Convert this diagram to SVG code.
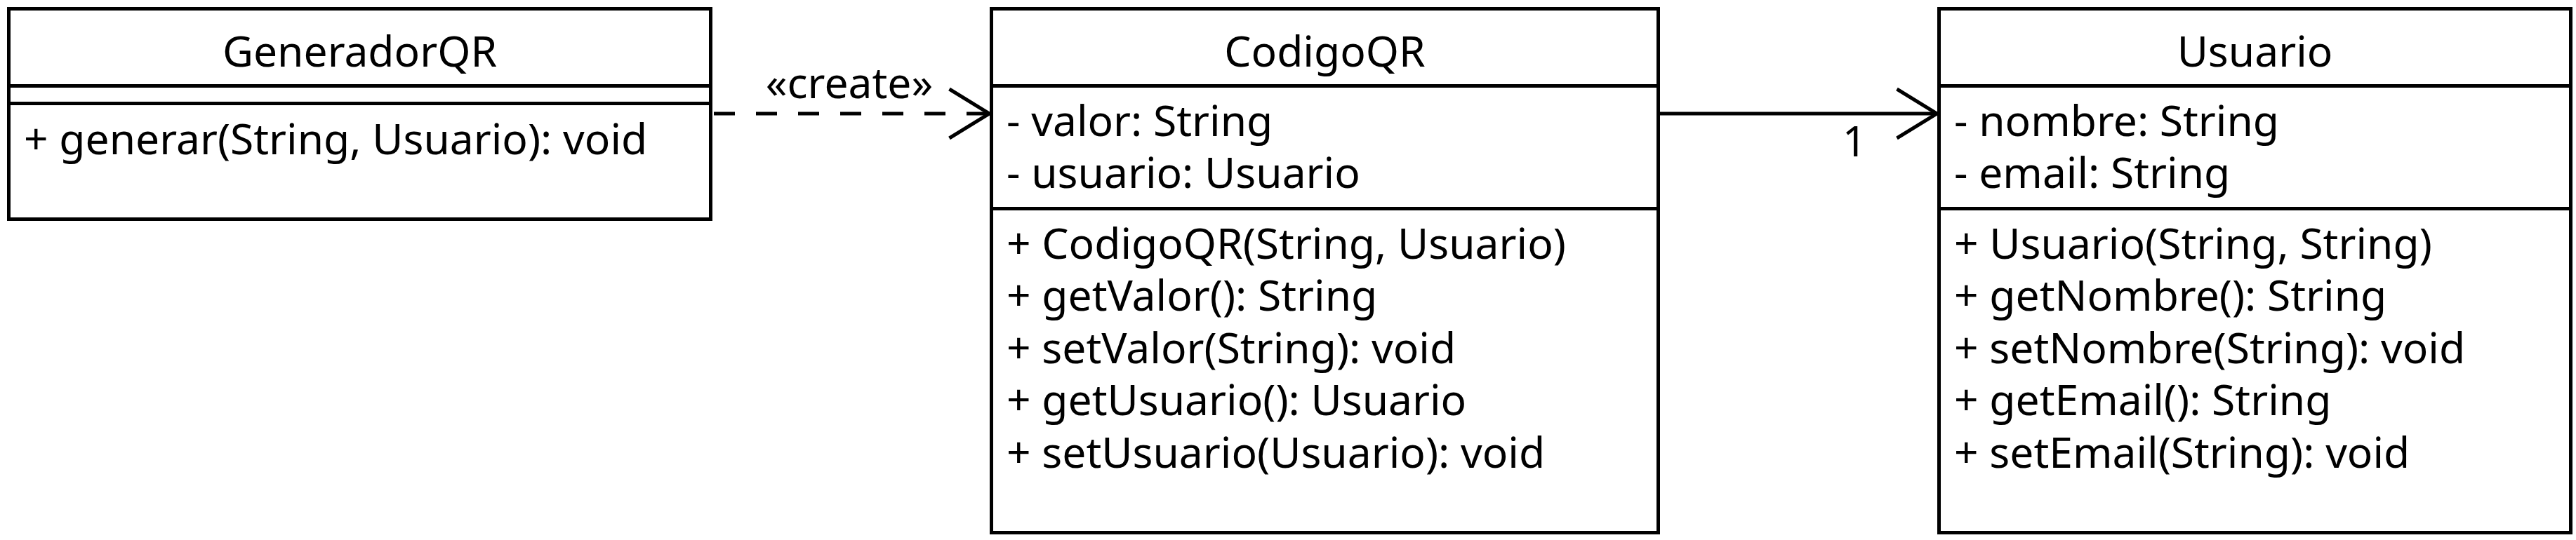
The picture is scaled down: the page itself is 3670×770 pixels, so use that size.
<svg xmlns="http://www.w3.org/2000/svg" width="3670" height="770" viewBox="0 0 3670 770">
  <style>
    .box { fill: #ffffff; stroke: #000000; stroke-width: 5; }
    .div { stroke: #000000; stroke-width: 5; }
    text { font-family: "Noto Sans", "Open Sans", sans-serif; font-size: 60.5px; fill: #000000; }
    .title { text-anchor: middle; }
    .edge { fill: none; stroke: #000000; stroke-width: 5; }
    .dash { stroke-dasharray: 30 30; }
  </style>
  <rect width="3670" height="770" fill="#ffffff"/>

  <g id="GeneradorQR">
    <rect class="box" x="12.5" y="12.5" width="1000" height="300"/>
    <line class="div" x1="12.5" y1="122.5" x2="1012.5" y2="122.5"/>
    <line class="div" x1="12.5" y1="147.5" x2="1012.5" y2="147.5"/>
    <text class="title" x="512.5" y="95">GeneradorQR</text>
    <text x="34" y="220">+ generar(String, Usuario): void</text>
  </g>

  <g id="CodigoQR">
    <rect class="box" x="1412.5" y="12.5" width="950" height="747"/>
    <line class="div" x1="1412.5" y1="122.5" x2="2362.5" y2="122.5"/>
    <line class="div" x1="1412.5" y1="297.5" x2="2362.5" y2="297.5"/>
    <text class="title" x="1887.5" y="95">CodigoQR</text>
    <text x="1434" y="194">- valor: String</text>
    <text x="1434" y="268">- usuario: Usuario</text>
    <text x="1434" y="369">+ CodigoQR(String, Usuario)</text>
    <text x="1434" y="443">+ getValor(): String</text>
    <text x="1434" y="518">+ setValor(String): void</text>
    <text x="1434" y="592">+ getUsuario(): Usuario</text>
    <text x="1434" y="667">+ setUsuario(Usuario): void</text>
  </g>

  <g id="Usuario">
    <rect class="box" x="2762.5" y="12.5" width="900" height="747"/>
    <line class="div" x1="2762.5" y1="122.5" x2="3662.5" y2="122.5"/>
    <line class="div" x1="2762.5" y1="297.5" x2="3662.5" y2="297.5"/>
    <text class="title" x="3212.5" y="95">Usuario</text>
    <text x="2784" y="194">- nombre: String</text>
    <text x="2784" y="268">- email: String</text>
    <text x="2784" y="369">+ Usuario(String, String)</text>
    <text x="2784" y="443">+ getNombre(): String</text>
    <text x="2784" y="518">+ setNombre(String): void</text>
    <text x="2784" y="592">+ getEmail(): String</text>
    <text x="2784" y="667">+ setEmail(String): void</text>
  </g>

  <g id="connectors">
    <line class="edge dash" x1="1017" y1="162" x2="1409" y2="162"/>
    <path class="edge" d="M1352.5,127 L1409.5,162 L1352.5,197"/>
    <text class="title" x="1210" y="140">«create»</text>
    <line class="edge" x1="2365" y1="162" x2="2759" y2="162"/>
    <path class="edge" d="M2702.5,127 L2759.5,162 L2702.5,197"/>
    <text class="title" x="2642" y="223">1</text>
  </g>
</svg>
